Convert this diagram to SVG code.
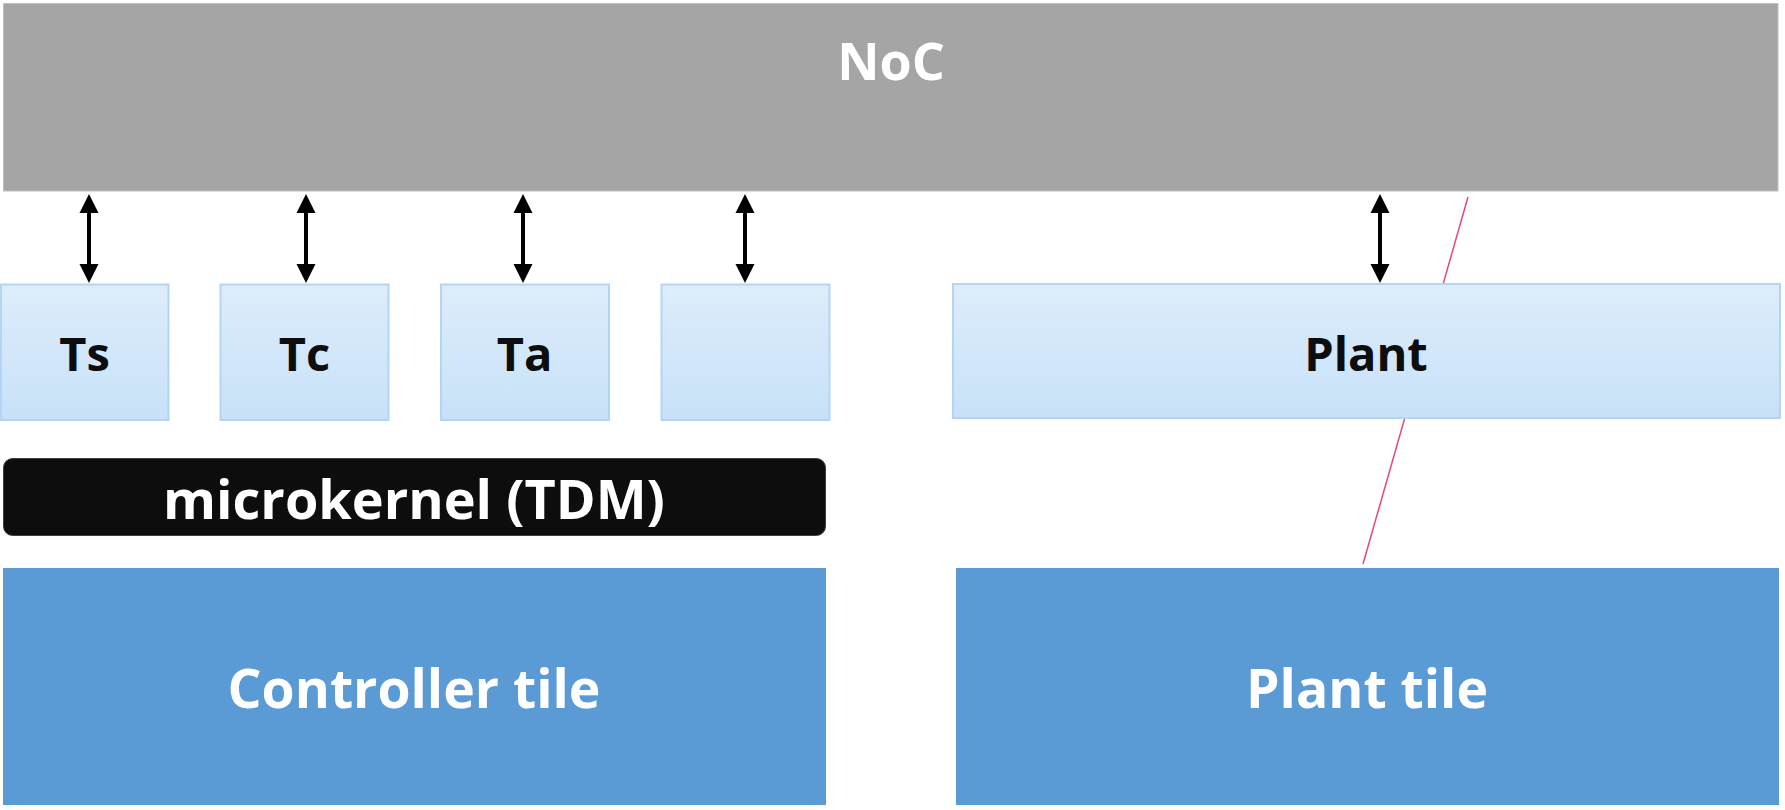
<svg xmlns="http://www.w3.org/2000/svg" width="1785" height="810" viewBox="0 0 1785 810">
<defs>
<linearGradient id="lb" x1="0" y1="0" x2="0" y2="1">
<stop offset="0" stop-color="#ddedfb"/>
<stop offset="1" stop-color="#c8e1f8"/>
</linearGradient>
<path id="arr" d="M0,0 L-9.5,19 L-2,19 L-2,70 L-9.5,70 L0,89 L9.5,70 L2,70 L2,19 L9.5,19 z" fill="#000"/>
<style>
.t{font-family:"Open Sans","Liberation Sans",sans-serif;font-weight:bold;text-anchor:middle}
.lb{fill:url(#lb);stroke:#b3d5f3;stroke-width:2}
.tile{fill:#5b9bd5}
</style>
</defs>
<rect width="1785" height="810" fill="#fff"/>
<g id="noc">
<rect x="3.5" y="3.5" width="1774.5" height="187.5" fill="#a5a5a5" stroke="#c0c0c0" stroke-width="1"/>
<text class="t" x="891" y="80" font-size="52" fill="#fff">NoC</text>
</g>
<line id="pink" x1="1468" y1="197" x2="1363" y2="564" stroke="#e8467c" stroke-width="1.5"/>
<g id="ts">
<rect class="lb" x="1" y="284.5" width="167.5" height="135.5"/>
<text class="t" x="84.5" y="371" font-size="47" fill="#0d0d0d">Ts</text>
</g>
<g id="tc">
<rect class="lb" x="220.5" y="284.5" width="168" height="135.5"/>
<text class="t" x="304.5" y="371" font-size="47" fill="#0d0d0d">Tc</text>
</g>
<g id="ta">
<rect class="lb" x="441" y="284.5" width="168" height="135.5"/>
<text class="t" x="524.5" y="371" font-size="47" fill="#0d0d0d">Ta</text>
</g>
<g id="tx">
<rect class="lb" x="661.5" y="284.5" width="168" height="135.5"/>
</g>
<g id="plant">
<rect class="lb" x="953" y="284" width="827" height="134"/>
<text class="t" x="1366" y="371" font-size="47" fill="#0d0d0d">Plant</text>
</g>
<g id="microkernel">
<rect x="3.5" y="458.5" width="822" height="77" rx="9" fill="#0d0d0d" stroke="#404040" stroke-width="1"/>
<text class="t" x="414" y="519" font-size="54" fill="#fff">microkernel (TDM)</text>
</g>
<g id="controller-tile">
<rect class="tile" x="3" y="568" width="823" height="237"/>
<text class="t" x="414" y="708" font-size="53.5" fill="#fff">Controller tile</text>
</g>
<g id="plant-tile">
<rect class="tile" x="956" y="568" width="823" height="237"/>
<text class="t" x="1367" y="708" font-size="53.5" fill="#fff">Plant tile</text>
</g>
<g id="connectors">
<use href="#arr" x="89" y="194"/>
<use href="#arr" x="306" y="194"/>
<use href="#arr" x="523" y="194"/>
<use href="#arr" x="745" y="194"/>
<use href="#arr" x="1380" y="194"/>
</g>
</svg>
